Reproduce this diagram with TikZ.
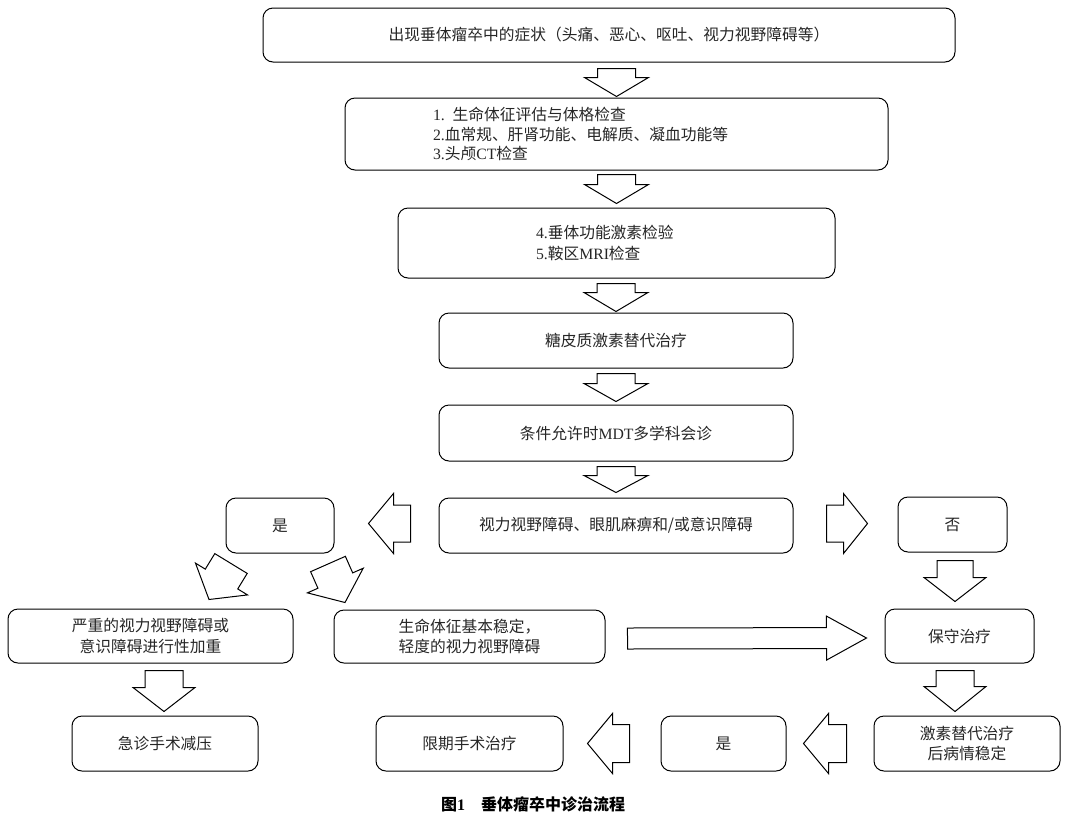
\documentclass[tikz,border=0pt]{standalone}
\usepackage{fontspec}
\setmainfont{Noto Sans CJK SC}
\newfontfamily\timesfont{Liberation Serif}
\usetikzlibrary{calc}

\tikzset{every picture/.style={line width=0.75pt}}
\tikzset{
  box/.style={draw, rounded corners=7.5pt, inner sep=2pt, align=center, text=black!85,
    font=\fontsize{11.8}{15.5}\selectfont},
  blockarrow/.style={draw, line join=miter, fill=white},
}

% block arrow from (#1-s) to (#1-e): shaft width, head width, head length (px)
\newcommand{\blockarr}[4]{%
  \coordinate (#1-h) at ($(#1-e)!#4*0.75pt!(#1-s)$);
  \draw[blockarrow] ($(#1-s)!#2*0.375pt!90:(#1-e)$) -- ($(#1-h)!#2*0.375pt!90:(#1-e)$)
    -- ($(#1-h)!#3*0.375pt!90:(#1-e)$) -- (#1-e)
    -- ($(#1-h)!#3*0.375pt!-90:(#1-e)$) -- ($(#1-h)!#2*0.375pt!-90:(#1-e)$)
    -- ($(#1-s)!#2*0.375pt!-90:(#1-e)$) -- cycle;
}

\begin{document}
\begin{tikzpicture}[x=0.75pt,y=0.75pt,yscale=-1,xscale=1]
\useasboundingbox (0,0) rectangle (1068,819);

%Rounded Rect: main column
\node[box, minimum width=519pt, minimum height=40.5pt] (b1) at (609,35)
  {出现垂体瘤卒中的症状（头痛、恶心、呕吐、视力视野障碍等）};
\node[box, minimum width=407.25pt, minimum height=54pt, text width=275.25pt, inner xsep=66pt,
  align=left, font=\fontsize{11.8}{14.5}\selectfont] (b2) at (616.5,134)
  {{\timesfont 1.} 生命体征评估与体格检查\\{\timesfont 2.}血常规、肝肾功能、电解质、凝血功能等\\{\timesfont 3.}头颅{\timesfont CT}检查};
\node[box, minimum width=327.75pt, minimum height=52.5pt, text width=120.75pt, inner xsep=103.5pt,
  align=left] (b3) at (616.5,243)
  {{\timesfont 4.}垂体功能激素检验\\{\timesfont 5.}鞍区{\timesfont MRI}检查};
\node[box, minimum width=265.5pt, minimum height=41.25pt] (b4) at (616,340.5) {糖皮质激素替代治疗};
\node[box, minimum width=265.5pt, minimum height=42pt] (b5) at (616,433) {条件允许时{\timesfont MDT}多学科会诊};
\node[box, minimum width=265.5pt, minimum height=41.25pt] (b6) at (616,525.5) {视力视野障碍、眼肌麻痹和/或意识障碍};

%Rounded Rect: branches
\node[box, minimum width=81pt, minimum height=41.25pt] (yes1) at (280,525.5) {是};
\node[box, minimum width=81.75pt, minimum height=41.25pt] (no1) at (952.5,524.5) {否};
\node[box, minimum width=213.75pt, minimum height=40.5pt] (severe) at (150.5,636)
  {严重的视力视野障碍或\\意识障碍进行性加重};
\node[box, minimum width=203.25pt, minimum height=39.75pt] (stable) at (469.5,636.5)
  {生命体征基本稳定，\\轻度的视力视野障碍};
\node[box, minimum width=111.75pt, minimum height=40.5pt] (conserv) at (959.5,636) {保守治疗};
\node[box, minimum width=139.5pt, minimum height=41.25pt] (emerg) at (165,743.5) {急诊手术减压};
\node[box, minimum width=140.25pt, minimum height=41.25pt] (elective) at (469.5,743.5) {限期手术治疗};
\node[box, minimum width=93.75pt, minimum height=41.25pt] (yes2) at (723.5,743.5) {是};
\node[box, minimum width=139.5pt, minimum height=41.25pt] (hormone) at (967,743.5)
  {激素替代治疗\\后病情稳定};

%Down Arrows: main column
\coordinate (a1-s) at ($(b1.south -| b2.north)+(0,6)$);
\coordinate (a1-e) at ($(b2.north)+(0,-1)$);
\blockarr{a1}{38}{64}{19}
\coordinate (a2-s) at ($(b2.south -| b3.north)+(0,4)$);
\coordinate (a2-e) at ($(b3.north)+(0,-4)$);
\blockarr{a2}{38}{64}{19}
\coordinate (a3-s) at ($(b3.south -| b4.north)+(0,5)$);
\coordinate (a3-e) at ($(b4.north)+(0,-1)$);
\blockarr{a3}{38}{64}{19}
\coordinate (a4-s) at ($(b4.south)+(0,5)$);
\coordinate (a4-e) at ($(b5.north)+(0,-3)$);
\blockarr{a4}{38}{64}{18}
\coordinate (a5-s) at ($(b5.south)+(0,5)$);
\coordinate (a5-e) at ($(b6.north)+(0,-5)$);
\blockarr{a5}{38}{64}{17}

%Side Arrows
\coordinate (l1-s) at ($(b6.west)+(-28,-2)$);
\coordinate (l1-e) at ($(yes1.east)+(34,-2)$);
\blockarr{l1}{37}{60}{25}
\coordinate (r1-s) at ($(b6.east)+(33,-2)$);
\coordinate (r1-e) at ($(no1.west)+(-30,-1)$);
\blockarr{r1}{37}{60}{24}

%Diagonal Arrows
\coordinate (dl-s) at ($(yes1.south)+(-49,10)$);
\coordinate (dl-e) at ($(yes1.south)+(-71,46)$);
\blockarr{dl}{38}{61}{24}
\coordinate (dr-s) at ($(yes1.south)+(48,10.5)$);
\coordinate (dr-e) at ($(yes1.south)+(65,49)$);
\blockarr{dr}{38}{61}{24}

%Down Arrows: branches
\coordinate (n1-s) at ($(no1.south)+(2.5,8)$);
\coordinate (n1-e) at ($(conserv.north)+(-4.5,-7)$);
\blockarr{n1}{36}{62}{24}
\coordinate (n2-s) at ($(conserv.south)+(-4.5,7)$);
\coordinate (n2-e) at ($(conserv.south |- hormone.north)+(-4.5,-4)$);
\blockarr{n2}{38}{62}{25}
\coordinate (s1-s) at ($(emerg.north |- severe.south)+(-1,7)$);
\coordinate (s1-e) at ($(emerg.north)+(-1,-4)$);
\blockarr{s1}{38}{62}{24}

%Long Arrow
\coordinate (lg-s) at ($(stable.east)+(22,2)$);
\coordinate (lg-e) at ($(conserv.west)+(-18,2)$);
\blockarr{lg}{21}{44}{40}

%Bottom Arrows
\coordinate (b7-s) at ($(yes2.west)+(-31,0)$);
\coordinate (b7-e) at ($(elective.east)+(24,0)$);
\blockarr{b7}{38}{60}{25}
\coordinate (b8-s) at ($(hormone.west)+(-27,0)$);
\coordinate (b8-e) at ($(yes2.east)+(17,0)$);
\blockarr{b8}{38}{60}{25}

% Text Node
\node[font=\fontsize{12}{14}\selectfont\bfseries] (cap) at (533,804) {图{\timesfont\bfseries 1}\quad 垂体瘤卒中诊治流程};

\end{tikzpicture}
\end{document}
